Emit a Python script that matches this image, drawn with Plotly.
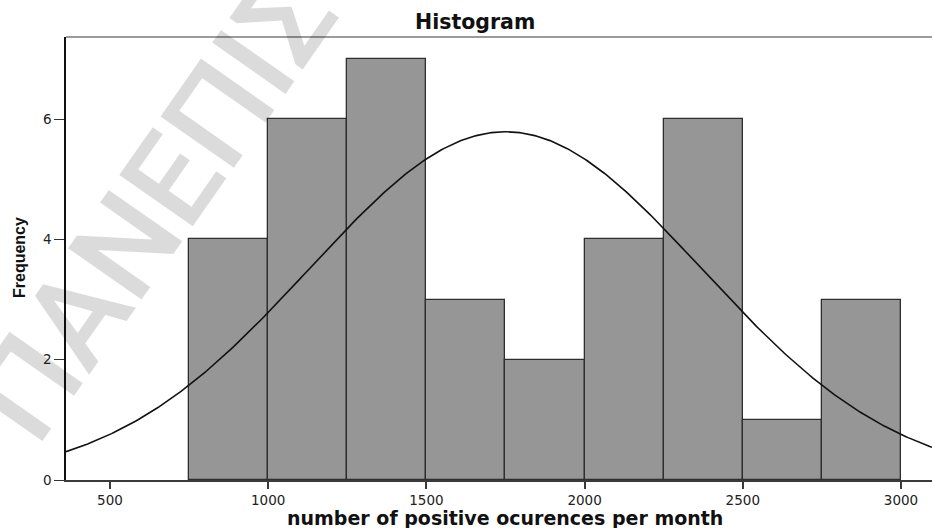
import numpy as np
import plotly.graph_objects as go

# Histogram bins (lower edges) and counts
bin_starts = [750, 1000, 1250, 1500, 1750, 2000, 2250, 2500, 2750]
bin_width = 250
counts = [4, 6, 7, 3, 2, 4, 6, 1, 3]

# Normal curve parameters (mean / std dev of the sample)
curve_mean = 1750
curve_sd = 620

x_ticks = [500, 1000, 1500, 2000, 2500, 3000]
y_ticks = [0, 2, 4, 6]
x_range = [361, 3098]
y_range = [0, 7.367]

n_total = sum(counts)
centers = [s + bin_width / 2 for s in bin_starts]

xc = np.linspace(x_range[0], x_range[1], 400)
yc = n_total * bin_width / (curve_sd * np.sqrt(2 * np.pi)) * np.exp(-0.5 * ((xc - curve_mean) / curve_sd) ** 2)

fig = go.Figure()
fig.add_trace(go.Bar(
    x=centers, y=counts, width=bin_width,
    marker=dict(color="#969696", line=dict(color="#2e2e2e", width=1.3)),
    hoverinfo="x+y",
))
fig.add_trace(go.Scatter(
    x=xc, y=yc, mode="lines",
    line=dict(color="#111111", width=1.6),
    hoverinfo="skip",
))

W, H = 932, 528
ml, mr, mt, mb = 66, 0, 37, 48
pw, ph = W - ml - mr, H - mt - mb


def px(x):
    return (x - ml) / pw


def py(y):
    return (H - mb - y) / ph


fig.update_layout(
    width=W, height=H,
    margin=dict(l=ml, r=mr, t=mt, b=mb, pad=0),
    paper_bgcolor="white", plot_bgcolor="rgba(0,0,0,0)",
    showlegend=False,
    bargap=0,
    xaxis=dict(
        range=x_range, tickvals=x_ticks, ticktext=[str(v) for v in x_ticks],
        showgrid=False, zeroline=False,
        showline=True, linecolor="#3a3a3a", linewidth=2,
        ticks="outside", ticklen=7, tickwidth=1.5, tickcolor="#3a3a3a",
        tickfont=dict(family="DejaVu Sans", size=13.5, color="#222"),
    ),
    yaxis=dict(
        range=y_range, tickvals=y_ticks,
        showgrid=False, zeroline=False,
        showline=True, linecolor="#111", linewidth=1.5,
        ticks="outside", ticklen=10, tickwidth=1.3, tickcolor="#333",
        tickfont=dict(family="DejaVu Sans", size=13.5, color="#222"),
    ),
    shapes=[dict(type="line", xref="paper", yref="paper", x0=0, x1=1, y0=1, y1=1,
                 line=dict(color="#7a7a7a", width=1.5))],
    annotations=[
        # watermark
        dict(text="ΠΑΝΕΠΙΣΤΗΜΙΟ", xref="paper", yref="paper", x=px(268), y=py(44),
             xanchor="center", yanchor="middle", textangle=-55, showarrow=False,
             font=dict(family="Roboto", size=126, weight=500, color="rgba(0,0,0,0.14)")),
        dict(text="<b>Histogram</b>", xref="paper", yref="paper", x=px(475), y=py(22),
             xanchor="center", yanchor="middle", showarrow=False,
             font=dict(family="DejaVu Sans", size=20.5, color="#111")),
        dict(text="<b>number of positive ocurences per month</b>", xref="paper", yref="paper",
             x=px(505), y=py(518), xanchor="center", yanchor="middle", showarrow=False,
             font=dict(family="DejaVu Sans", size=19, color="#111")),
        dict(text="<b>Frequency</b>", xref="paper", yref="paper", x=px(19), y=py(258),
             xanchor="center", yanchor="middle", textangle=-90, showarrow=False,
             font=dict(family="Liberation Sans", size=16, color="#111")),
    ],
)

fig.write_html("out.html")
